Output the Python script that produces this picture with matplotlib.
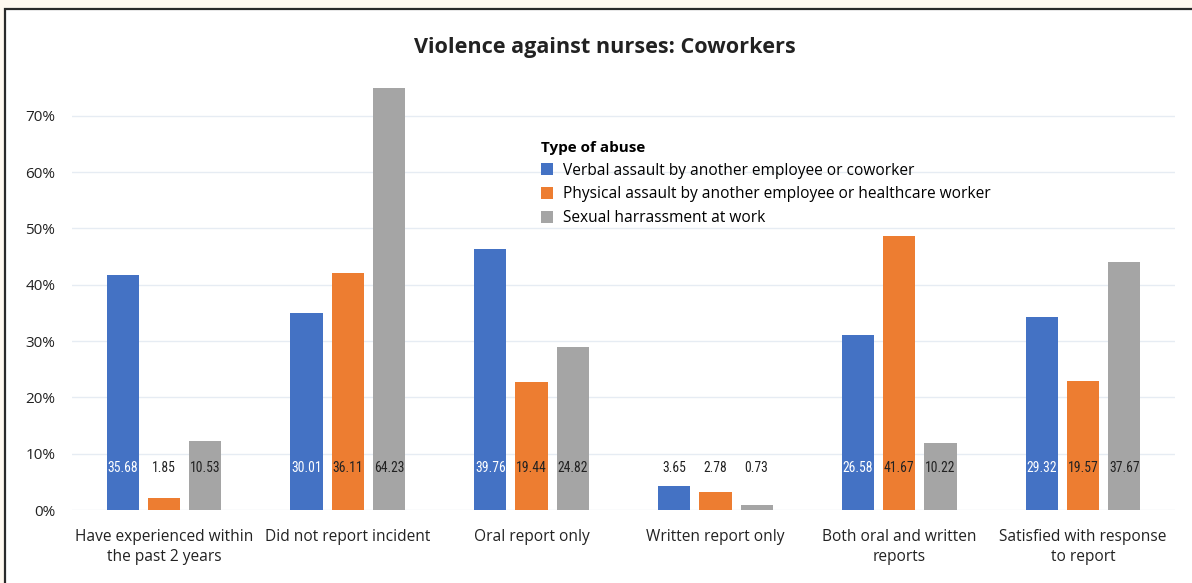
import matplotlib
matplotlib.use("Agg")
import matplotlib.pyplot as plt
import numpy as np
from matplotlib.patches import Patch, Rectangle

categories = ["Have experienced within\nthe past 2 years", "Did not report incident",
              "Oral report only", "Written report only",
              "Both oral and written\nreports", "Satisfied with response\nto report"]
series_names = ["Verbal assault by another employee or coworker",
                "Physical assault by another employee or healthcare worker",
                "Sexual harrassment at work"]
verbal = [35.68, 30.01, 39.76, 3.65, 26.58, 29.32]
physical = [1.85, 36.11, 19.44, 2.78, 41.67, 19.57]
sexual = [10.53, 64.23, 24.82, 0.73, 10.22, 37.67]
tick_labels = ["0%", "10%", "20%", "30%", "40%", "50%", "60%", "70%"]
tick_pcts = [0, 10, 20, 30, 40, 50, 60, 70]
# the original axis is drawn with a stretched scale relative to the value labels
axis_scale = 1.168

colors = ["#4472C4", "#ED7D31", "#A5A5A5"]
label_colors = ["white", "#222222", "#222222"]

plt.rcParams['font.family'] = ['Open Sans', 'DejaVu Sans']
fig = plt.figure(figsize=(11.92, 5.83), dpi=100)
fig.patch.set_facecolor("#FFF9F0")
frame = Rectangle((5/1192, -0.1), 1.1, 1 - 9/583 + 0.1, transform=fig.transFigure,
                  facecolor="white", edgecolor="#2a2a2a", linewidth=1.6, zorder=-10)
fig.add_artist(frame)

ax = fig.add_axes([72/1192, 1 - 510/583, 1103/1192, 430/583])
ax.set_facecolor("none")
x = np.arange(len(categories))
w = 0.175
off = 0.224
for i, (vals, c) in enumerate(zip([verbal, physical, sexual], colors)):
    xs = x + (i - 1) * off
    ax.bar(xs, vals, width=w, color=c, zorder=2)
    for xi, v in zip(xs, vals):
        inside = v > 8
        ax.text(xi, 6.4, f"{v:.2f}", ha="center", va="center", fontsize=9.8,
                family=['Liberation Sans Narrow', 'Roboto Condensed', 'DejaVu Sans'],
                fontstretch="condensed",
                color=label_colors[i] if inside else "#222222", zorder=3)

ax.set_xlim(-0.5, 5.5)
ax.set_ylim(0, 430 / 6.576)
ax.set_yticks([p / axis_scale for p in tick_pcts])
ax.set_yticklabels(tick_labels, fontsize=11, color="#222222")
ax.set_xticks(x)
ax.set_xticklabels(categories, fontsize=11.2, color="#222222", linespacing=1.3)
ax.tick_params(length=0, axis="y", pad=12)
ax.tick_params(length=0, axis="x", pad=14)
ax.grid(axis="y", color="#E6ECF3", linewidth=1, zorder=0)
for s in ax.spines.values():
    s.set_visible(False)

fig.text(605/1192, 1 - 48/583, "Violence against nurses: Coworkers", ha="center", va="center",
         fontsize=15.6, fontweight="bold", color="#222222")

handles = [Patch(facecolor=c, edgecolor="none") for c in colors]
leg = fig.legend(handles, series_names, loc="upper left", bbox_to_anchor=(530/1192, 1 - 130/583),
                 frameon=False, title="Type of abuse", fontsize=11.2,
                 title_fontproperties={"weight": "bold", "size": 11},
                 alignment="left", handlelength=0.8, handleheight=0.8, handletextpad=0.6,
                 labelspacing=0.5, borderpad=0.2)

fig.savefig("out.png", dpi=100, facecolor=fig.get_facecolor())
